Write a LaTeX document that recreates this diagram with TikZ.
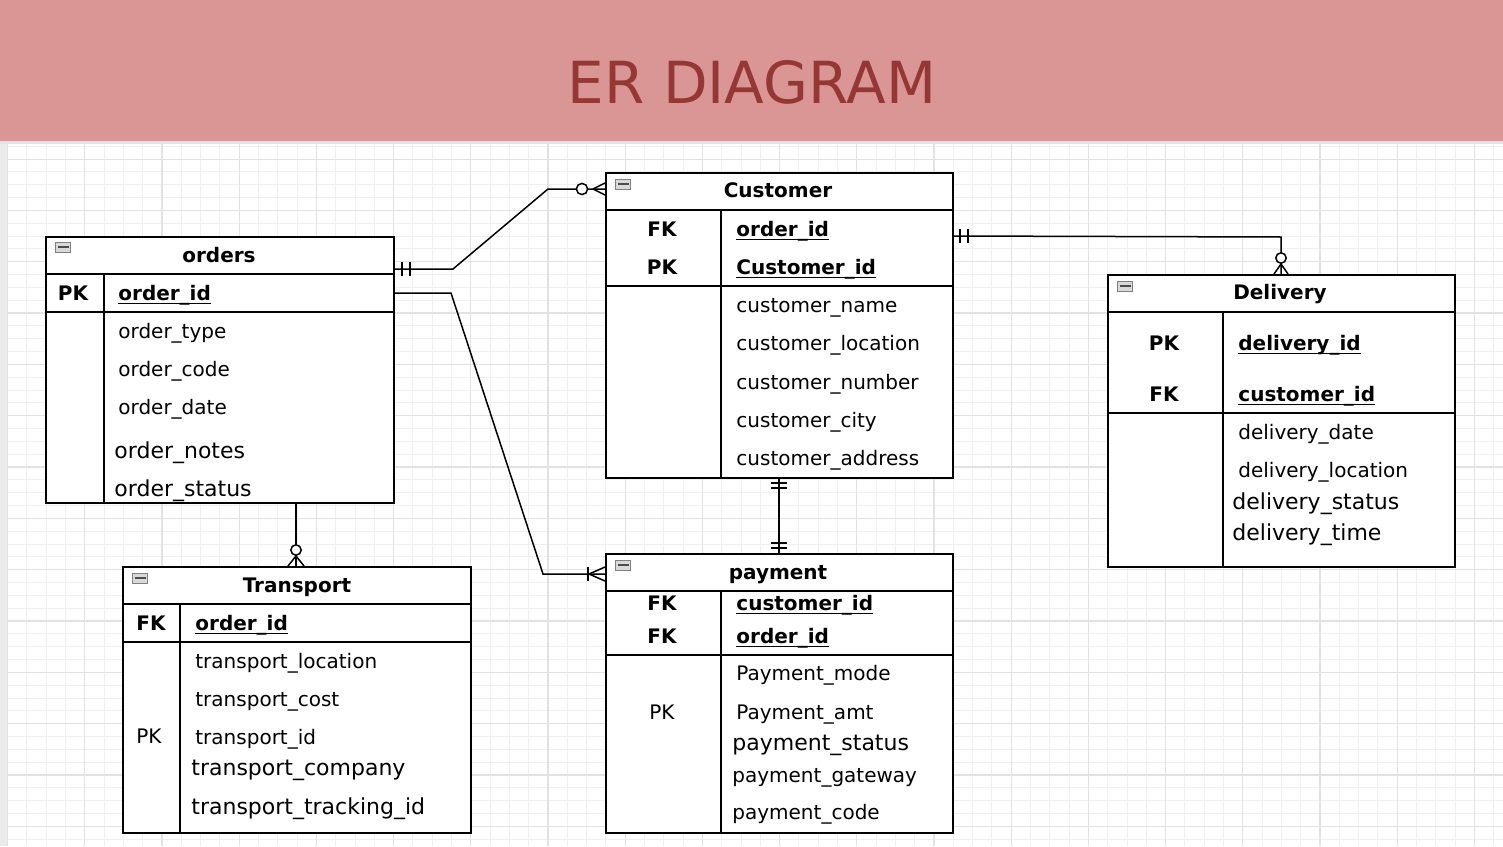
\documentclass[tikz,border=0pt]{standalone}
\usepackage{fontspec}
\setmainfont{DejaVu Sans}
\definecolor{hdrpink}{RGB}{217,150,148}
\definecolor{hdrred}{RGB}{149,55,53}
\definecolor{gridminor}{RGB}{240,240,240}
\definecolor{gridmajor}{RGB}{226,226,226}
\newcommand{\ul}[1]{\underline{\smash{#1}}}
\tikzset{
  tbl/.style={draw, line width=0.8pt, inner sep=0, anchor=north west},
  ln/.style={line width=0.8pt},
  txt/.style={inner sep=0, yshift=-1pt, text height=7.5pt, text depth=2pt},
  hdr/.style={txt, font=\bfseries\fontsize{10}{12}\selectfont},
  keyl/.style={txt, font=\bfseries\fontsize{10}{12}\selectfont},
  keyr/.style={txt, font=\fontsize{10}{12}\selectfont},
  attr/.style={txt, anchor=west, font=\fontsize{10}{12}\selectfont},
  attrL/.style={txt, anchor=west, font=\fontsize{11}{13}\selectfont, text height=8pt, text depth=2.2pt},
  keyname/.style={txt, anchor=west, font=\bfseries\fontsize{10}{12}\selectfont},
  icon/.style={draw=gray, fill=gray!30, line width=0.5pt, minimum width=7.5pt, minimum height=5pt, inner sep=0,
    path picture={\draw[line width=0.7pt, black!70] ([xshift=1pt]path picture bounding box.west) -- ([xshift=-1pt]path picture bounding box.east);}},
  conn/.style={line width=0.75pt},
  ring/.style={draw, fill=white, line width=0.75pt},
}
\begin{document}
\begin{tikzpicture}[x=0.5pt,y=-0.5pt]
\useasboundingbox (0,0) rectangle (1503,846);
% background
\fill[white] (0,0) rectangle (1503,846);
\fill[black!8] (0,141) rectangle (7,846);
% grid
\foreach \i in {0,...,77} {\draw[gridminor, line width=0.5pt] (7.6+\i*19.3,143) -- (7.6+\i*19.3,846);}
\foreach \j in {0,...,55} {\draw[gridminor, line width=0.5pt] (7,146.3+\j*12.83) -- (1503,146.3+\j*12.83);}
\foreach \i in {0,4,...,76} {\draw[gridmajor, line width=0.6pt] (7.6+\i*19.3,143) -- (7.6+\i*19.3,846);}
\foreach \j in {1,5,...,53} {\draw[gridmajor, line width=0.6pt] (7,146.3+\j*12.83) -- (1503,146.3+\j*12.83);}
% header
\fill[hdrpink] (0,0) rectangle (1503,141);
\fill[black!10] (0,141) rectangle (1503,144);
\node[text=hdrred, font=\fontsize{29}{33}\selectfont, inner sep=0] (title) at (752,82) {ER DIAGRAM};

% ---------------- orders ----------------
\node[tbl, fill=white, minimum width=174pt, minimum height=133pt] (orders) at (45,236) {};
\draw[ln] (45,274) -- (393,274);
\draw[ln] (45,312) -- (393,312);
\draw[ln] (104,274) -- (104,502);
\node[icon] (oicon) at (63,247) {};
\node[hdr] (otitle) at (219,255) {orders};
\node[keyl] (opk) at (73,293) {PK};
\node[keyname] (oid) at (118,293) {\ul{order\_id}};
\node[attr] (o1) at (118,331) {order\_type};
\node[attr] (o2) at (118,369) {order\_code};
\node[attr] (o3) at (118,407) {order\_date};
\node[attrL] (o4) at (114,451) {order\_notes};
\node[attrL] (o5) at (114,489) {order\_status};

% ---------------- Customer ----------------
\node[tbl, fill=white, minimum width=173.5pt, minimum height=152.5pt] (cust) at (605,172) {};
\draw[ln] (605,210) -- (952,210);
\draw[ln] (605,286) -- (952,286);
\draw[ln] (721,210) -- (721,477);
\node[icon] (cicon) at (623,184) {};
\node[hdr] (ctitle) at (778,190) {Customer};
\node[keyl] (cfk) at (662,229) {FK};
\node[keyname] (coid) at (736,229) {\ul{order\_id}};
\node[keyl] (cpk) at (662,267) {PK};
\node[keyname] (ccid) at (736,267) {\ul{Customer\_id}};
\node[attr] (c1) at (736,305) {customer\_name};
\node[attr] (c2) at (736,343) {customer\_location};
\node[attr] (c3) at (736,382) {customer\_number};
\node[attr] (c4) at (736,420) {customer\_city};
\node[attr] (c5) at (736,458) {customer\_address};

% ---------------- Delivery ----------------
\node[tbl, fill=white, minimum width=173.5pt, minimum height=146pt] (deliv) at (1107,274) {};
\draw[ln] (1107,312) -- (1454,312);
\draw[ln] (1107,413) -- (1454,413);
\draw[ln] (1223,312) -- (1223,566);
\node[icon] (dicon) at (1125,286) {};
\node[hdr] (dtitle) at (1280,292) {Delivery};
\node[keyl] (dpk) at (1164,343) {PK};
\node[keyname] (did) at (1238,343) {\ul{delivery\_id}};
\node[keyl] (dfk) at (1164,394) {FK};
\node[keyname] (dcid) at (1238,394) {\ul{customer\_id}};
\node[attr] (d1) at (1238,432) {delivery\_date};
\node[attr] (d2) at (1238,470) {delivery\_location};
\node[attrL] (d3) at (1232,502) {delivery\_status};
\node[attrL] (d4) at (1232,533) {delivery\_time};

% ---------------- payment ----------------
\node[tbl, fill=white, minimum width=173.5pt, minimum height=139.5pt] (pay) at (605,553) {};
\draw[ln] (605,591) -- (952,591);
\draw[ln] (605,655) -- (952,655);
\draw[ln] (721,591) -- (721,832);
\node[icon] (picon) at (623,565) {};
\node[hdr] (ptitle) at (778,572) {payment};
\node[keyl] (pfk1) at (662,603) {FK};
\node[keyname] (pcid) at (736,603) {\ul{customer\_id}};
\node[keyl] (pfk2) at (662,636) {FK};
\node[keyname] (poid) at (736,636) {\ul{order\_id}};
\node[attr] (p1) at (736,673) {Payment\_mode};
\node[keyr] (ppk) at (662,712) {PK};
\node[attr] (p2) at (736,712) {Payment\_amt};
\node[attrL] (p3) at (732,743) {payment\_status};
\node[attr] (p4) at (732,775) {payment\_gateway};
\node[attr] (p5) at (732,812) {payment\_code};

% ---------------- Transport ----------------
\node[tbl, fill=white, minimum width=174pt, minimum height=133pt] (trans) at (122,566) {};
\draw[ln] (122,604) -- (470,604);
\draw[ln] (122,642) -- (470,642);
\draw[ln] (180,604) -- (180,832);
\node[icon] (ticon) at (140,578) {};
\node[hdr] (ttitle) at (297,585) {Transport};
\node[keyl] (tfk) at (151,623) {FK};
\node[keyname] (toid) at (195,623) {\ul{order\_id}};
\node[attr] (t1) at (195,661) {transport\_location};
\node[attr] (t2) at (195,699) {transport\_cost};
\node[keyr] (tpk) at (149,736) {PK};
\node[attr] (t3) at (195,737) {transport\_id};
\node[attrL] (t4) at (191,768) {transport\_company};
\node[attrL] (t5) at (191,807) {transport\_tracking\_id};

% ---------------- connectors ----------------
% orders -> Customer (one mandatory to zero-or-many)
\coordinate (a1) at (393,269);
\coordinate (a2) at (453,269);
\coordinate (a3) at (548,189);
\coordinate (a4) at (605,189);
\draw[conn] (a1) -- (a2) -- (a3) -- (a4);
\draw[conn] (402,262) -- (402,276) (410,262) -- (410,276);
\draw[conn] (593,189) -- (605,183) (593,189) -- (605,195);
\draw[ring] (582,189) circle[radius=2.8pt];

% orders.order_id -> payment (one-or-many)
\coordinate (b1) at (393,293);
\coordinate (b2) at (451,293);
\coordinate (b3) at (543,574);
\coordinate (b4) at (605,574);
\draw[conn] (b1) -- (b2) -- (b3) -- (b4);
\draw[conn] (588,567) -- (588,581);
\draw[conn] (589,574) -- (605,567) (589,574) -- (605,581);

% Customer -> Delivery (one mandatory to zero-or-many)
\coordinate (e1) at (952,236);
\coordinate (e2) at (1281,237);
\coordinate (e3) at (1281,274);
\draw[conn] (e1) -- (e2) -- (e3);
\draw[conn] (960,229) -- (960,243) (968,229) -- (968,243);
\draw[conn] (1281,264) -- (1274,274) (1281,264) -- (1288,274);
\draw[ring] (1281,258) circle[radius=2.6pt];

% Customer -> payment (one mandatory to one mandatory)
\coordinate (f1) at (779,477);
\coordinate (f2) at (779,553);
\draw[conn, line width=1.1pt] (f1) -- (f2);
\draw[conn] (771,483) -- (787,483) (771,488) -- (787,488);
\draw[conn] (771,543) -- (787,543) (771,548) -- (787,548);

% orders -> Transport (zero-or-many)
\coordinate (g1) at (296,502);
\coordinate (g2) at (296,566);
\draw[conn] (g1) -- (g2);
\draw[conn] (296,556) -- (288,566) (296,556) -- (304,566);
\draw[ring] (296,550) circle[radius=2.6pt];
\end{tikzpicture}
\end{document}
